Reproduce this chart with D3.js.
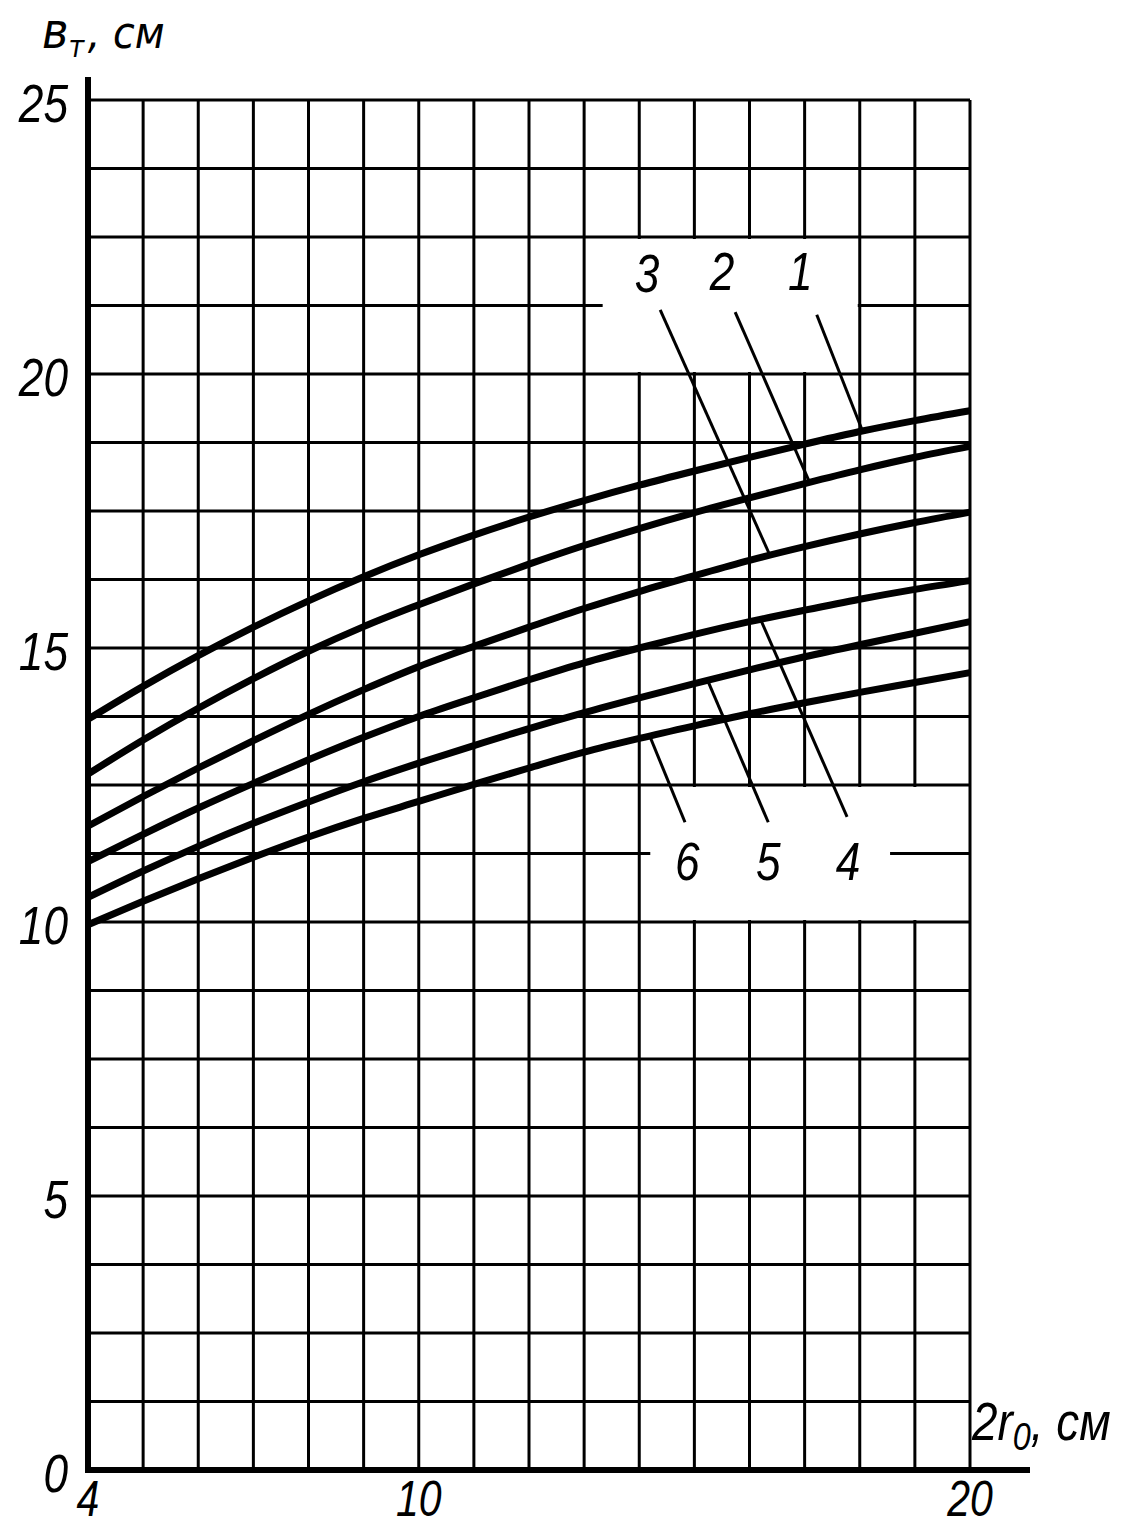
<!DOCTYPE html>
<html>
<head>
<meta charset="utf-8">
<script src="https://cdn.jsdelivr.net/npm/d3@7"></script>
<style>
  html, body { margin: 0; padding: 0; background: #fff; }
  svg { display: block; }
  text { font-family: "Liberation Sans", "DejaVu Sans", sans-serif; font-style: italic; fill: #000; }
</style>
</head>
<body>
<svg id="chart" width="1145" height="1531"></svg>
<script>
// ---- data ----
const xValues = [4, 5, 6, 7, 8, 9, 10, 11, 12, 13, 14, 15, 16, 17, 18, 19, 20];
const curve1 = [13.7, 14.3, 14.86, 15.38, 15.86, 16.3, 16.7, 17.06, 17.39, 17.69, 17.97, 18.23, 18.48, 18.72, 18.95, 19.15, 19.33];
const curve2 = [12.7, 13.32, 13.9, 14.44, 14.94, 15.39, 15.79, 16.17, 16.53, 16.87, 17.18, 17.47, 17.74, 18.0, 18.25, 18.48, 18.68];
const curve3 = [11.75, 12.29, 12.81, 13.31, 13.79, 14.24, 14.66, 15.03, 15.38, 15.72, 16.03, 16.32, 16.6, 16.85, 17.08, 17.29, 17.48];
const curve4 = [11.1, 11.6, 12.08, 12.53, 12.96, 13.37, 13.75, 14.09, 14.42, 14.73, 15.0, 15.25, 15.48, 15.69, 15.89, 16.07, 16.23];
const curve5 = [10.45, 10.93, 11.38, 11.8, 12.19, 12.56, 12.9, 13.22, 13.53, 13.82, 14.09, 14.35, 14.6, 14.84, 15.06, 15.27, 15.48];
const curve6 = [9.95, 10.38, 10.79, 11.18, 11.55, 11.89, 12.2, 12.51, 12.81, 13.1, 13.35, 13.58, 13.8, 14.0, 14.19, 14.37, 14.55];
const curveNames = ["1", "2", "3", "4", "5", "6"];
const xTickLabels = [4, 10, 20];
const yTickLabels = [0, 5, 10, 15, 20, 25];
// label positions (data units): text centre x, text baseline y, leader start x/y, leader end x on its curve
const labelX      = [16.92, 15.50, 14.14, 17.79, 16.34, 14.87];
const labelY      = [21.53, 21.53, 21.50, 10.77, 10.77, 10.77];
const leaderFromX = [17.22, 15.74, 14.38, 17.77, 16.34, 14.83];
const leaderFromY = [21.08, 21.13, 21.17, 11.92, 11.82, 11.82];
const leaderToX   = [18.05, 17.09, 16.37, 16.20, 15.24, 14.19];

const series = [curve1, curve2, curve3, curve4, curve5, curve6];

// ---- scales ----
const svg = d3.select("#chart");
const x = d3.scaleLinear().domain([4, 20]).range([88, 970]);
const y = d3.scaleLinear().domain([0, 25]).range([1470, 100]);

const gridX = d3.range(4, 20.001, 1);
const gridY = d3.range(0, 25.001, 1.25);

// ---- grid ----
const grid = svg.append("g").attr("stroke", "#000").attr("stroke-width", 3);
grid.selectAll("line.v").data(gridX).join("line")
  .attr("x1", d => x(d)).attr("x2", d => x(d))
  .attr("y1", y(0)).attr("y2", y(25));
grid.selectAll("line.h").data(gridY).join("line")
  .attr("x1", x(4)).attr("x2", x(20))
  .attr("y1", d => y(d)).attr("y2", d => y(d));

// blank label boxes (grid interrupted)
const boxes = [
  {x0: 13.3, x1: 18, y0: 20, y1: 22.5},
  {x0: 14, x1: 20, y0: 10, y1: 12.5}
];
svg.append("g").selectAll("rect").data(boxes).join("rect")
  .attr("x", d => x(d.x0) + 2).attr("width", d => x(d.x1) - x(d.x0) - 4)
  .attr("y", d => y(d.y1) + 2).attr("height", d => y(d.y0) - y(d.y1) - 4)
  .attr("fill", "#fff");
// partial grid lines inside boxes
const stubs = [
  {xa: 13, xb: 13.3, yv: 21.25},
  {xa: 18, xb: 20, yv: 21.25},
  {xa: 14, xb: 14.2, yv: 11.25},
  {xa: 18.55, xb: 20, yv: 11.25}
];
svg.append("g").attr("stroke", "#000").attr("stroke-width", 3)
  .selectAll("line").data(stubs).join("line")
  .attr("x1", d => x(d.xa)).attr("x2", d => x(d.xb))
  .attr("y1", d => y(d.yv)).attr("y2", d => y(d.yv));

// ---- axes ----
svg.append("line").attr("stroke", "#000").attr("stroke-width", 6)
  .attr("x1", x(4)).attr("x2", x(4)).attr("y1", y(25) - 23).attr("y2", y(0) + 3);
svg.append("line").attr("stroke", "#000").attr("stroke-width", 6)
  .attr("x1", x(4) - 2).attr("x2", x(20) + 60).attr("y1", y(0)).attr("y2", y(0));

// ---- curves ----
const line = d3.line().x(d => x(d[0])).y(d => y(d[1])).curve(d3.curveMonotoneX);
svg.append("g").selectAll("path").data(series).join("path")
  .attr("d", s => line(xValues.map((xv, i) => [xv, s[i]])))
  .attr("fill", "none").attr("stroke", "#000").attr("stroke-width", 7)
  .attr("stroke-linecap", "butt");

// ---- leaders & curve labels ----
function valueAt(s, xv) {
  return d3.scaleLinear().domain(xValues).range(s)(xv);
}
svg.append("g").attr("stroke", "#000").attr("stroke-width", 3)
  .selectAll("line").data(curveNames).join("line")
  .attr("x1", (d, i) => x(leaderFromX[i])).attr("y1", (d, i) => y(leaderFromY[i]))
  .attr("x2", (d, i) => x(leaderToX[i])).attr("y2", (d, i) => y(valueAt(series[i], leaderToX[i])));

function bigText(g, px, py, str, anchor, size) {
  return g.append("text")
    .attr("transform", `translate(${px},${py}) scale(0.82,1)`)
    .attr("text-anchor", anchor)
    .attr("font-size", size || 54)
    .text(str);
}
const labels = svg.append("g");
curveNames.forEach((n, i) => bigText(labels, x(labelX[i]), y(labelY[i]), n, "middle"));

// ---- tick labels ----
const ticks = svg.append("g");
yTickLabels.forEach(v => bigText(ticks, x(4) - 20, y(v) + 22, String(v), "end"));
xTickLabels.forEach(v => bigText(ticks, x(v), y(0) + 46, String(v), "middle", 50));

// ---- axis titles ----
const yt = svg.append("text")
  .attr("transform", `translate(${x(4) - 46},${y(25) - 52}) scale(0.9,1)`)
  .style("font-family", "'DejaVu Sans', sans-serif")
  .style("font-style", "oblique")
  .attr("font-size", 44);
yt.append("tspan").attr("font-size", 50).text("в");
yt.append("tspan").attr("font-size", 30).attr("dy", 9).text("т");
yt.append("tspan").attr("dy", -9).attr("dx", 4).text(", см");

const xt = svg.append("text")
  .attr("transform", `translate(${x(20) + 2},${y(0) - 30}) scale(0.85,1)`)
  .attr("font-size", 54);
xt.append("tspan").text("2r");
xt.append("tspan").attr("font-size", 38).attr("dy", 10).text("0");
xt.append("tspan").attr("dy", -10).text(", см");
</script>
</body>
</html>
